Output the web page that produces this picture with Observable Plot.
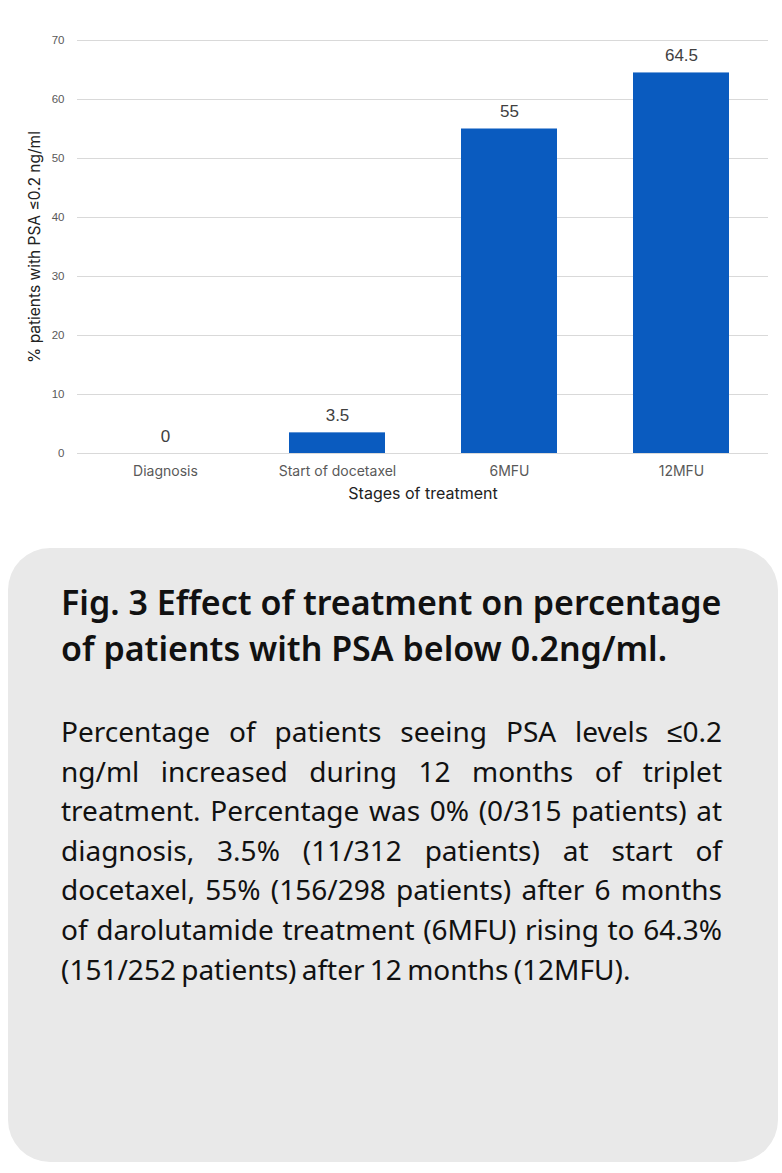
<!DOCTYPE html>
<html>
<head>
<meta charset="utf-8">
<script src="https://cdn.jsdelivr.net/npm/d3@7"></script>
<script src="https://cdn.jsdelivr.net/npm/@observablehq/plot@0.6"></script>
<style>
  html, body { margin: 0; padding: 0; background: #ffffff; }
  body { width: 782px; height: 1173px; overflow: hidden; font-family: "Noto Sans", sans-serif; }
  #chart { height: 520px; }
  #chart svg { display: block; }
  .card {
    position: absolute; left: 8px; top: 548px; width: 770px; height: 614px;
    background: #e9e9e9; border-radius: 42px; box-sizing: border-box;
    padding: 31px 50px 0 53px;
  }
  .card h2 { margin: 0; font-family: "Noto Sans", sans-serif; font-weight: 600; font-size: 34px; line-height: 46px; color: #111; letter-spacing: 0; }
  .card p { margin: 41px 6px 0 0; font-family: "Noto Sans", sans-serif; font-size: 28px; line-height: 39.6px; color: #111; text-align: justify; word-spacing: -2px; }
</style>
</head>
<body>
<div id="chart"></div>
<div class="card">
  <h2>Fig. 3 Effect of treatment on percentage of patients with PSA below 0.2ng/ml.</h2>
  <p>Percentage of patients seeing PSA levels ≤0.2 ng/ml increased during 12 months of triplet treatment. Percentage was 0% (0/315 patients) at diagnosis, 3.5% (11/312 patients) at start of docetaxel, 55% (156/298 patients) after 6 months of darolutamide treatment (6MFU) rising to 64.3% (151/252 patients) after 12 months (12MFU).</p>
</div>
<script>
const stages = ["Diagnosis", "Start of docetaxel", "6MFU", "12MFU"];
const percentages = [0, 3.5, 55, 64.5];
const yTicks = [0, 10, 20, 30, 40, 50, 60, 70];

const data = stages.map((s, i) => ({stage: s, value: percentages[i]}));

const chart = Plot.plot({
  width: 782,
  height: 520,
  marginTop: 40,
  marginBottom: 67,
  marginLeft: 77,
  marginRight: 14,
  style: {fontFamily: "Liberation Sans, Arial, sans-serif", background: "white"},
  x: {domain: stages, paddingInner: 0.444, paddingOuter: 0.222, label: null},
  y: {domain: [0, 70], label: null},
  marks: [
    Plot.gridY(yTicks, {stroke: "#d9d9d9", strokeOpacity: 1, strokeWidth: 1}),
    Plot.axisY(yTicks, {tickSize: 0, tickPadding: 13, fontSize: 11.5, fill: "#595959", label: null}),
    Plot.axisX({tickSize: 0, tickPadding: 13, fontSize: 14, fill: "#595959", label: null, fontFamily: "Inter, sans-serif"}),
    Plot.barY(data, {x: "stage", y: "value", fill: "#0a5bbf"}),
    Plot.text(data, {x: "stage", y: "value", text: d => String(d.value), dy: -17, fontSize: 17, fill: "#404040"}),
    Plot.text(["Stages of treatment"], {frameAnchor: "bottom", textAnchor: "middle", dy: 45, fontSize: 16, fill: "#222", fontFamily: "Inter, sans-serif"}),
    Plot.text(["% patients with PSA ≤0.2 ng/ml"], {frameAnchor: "left", textAnchor: "middle", dx: -42, rotate: -90, fontSize: 15.5, fill: "#222", fontFamily: "Inter, sans-serif"})
  ]
});
document.getElementById("chart").appendChild(chart);
</script>
</body>
</html>
